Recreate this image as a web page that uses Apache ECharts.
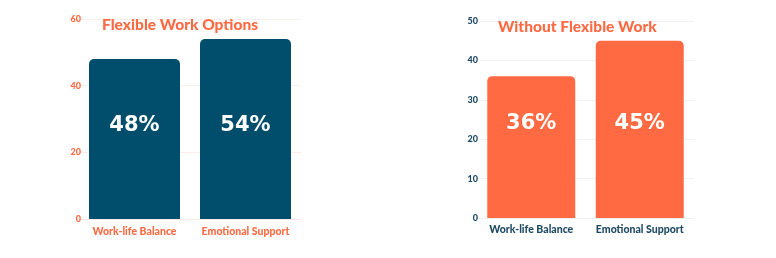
<!DOCTYPE html>
<html><head><meta charset="utf-8">
<style>html,body{margin:0;padding:0;background:#fff;}#c{width:776px;height:258px;}</style>
<script src="https://cdn.jsdelivr.net/npm/echarts@6/dist/echarts.min.js"></script>
</head><body><div id="c"></div>
<script>
const categories = ['Work-life Balance', 'Emotional Support'];
const flexibleValues = [48, 54];
const withoutValues = [36, 45];
const leftTitle = 'Flexible Work Options';
const rightTitle = 'Without Flexible Work';

const ORANGE = '#FF6A43';
const BLUE = '#004E6B';
const AXBLUE = '#1E4A64';

const chart = echarts.init(document.getElementById('c'), null, {renderer: 'canvas'});
chart.setOption({
  animation: false,
  backgroundColor: '#ffffff',
  title: [
    {text: leftTitle, left: 102, top: 17, padding: 0, textStyle: {color: ORANGE, fontFamily: 'Lato', fontWeight: 900, fontSize: 15.5}},
    {text: rightTitle, left: 498, top: 19, padding: 0, textStyle: {color: ORANGE, fontFamily: 'Lato', fontWeight: 900, fontSize: 15.5}}
  ],
  grid: [
    {left: 79, right: 776 - 301, top: 19, bottom: 258 - 219},
    {left: 477, right: 776 - 694, top: 21, bottom: 258 - 218}
  ],
  xAxis: [
    {type: 'category', gridIndex: 0, data: categories,
     axisLine: {lineStyle: {color: '#fde9e6'}}, axisTick: {show: false},
     axisLabel: {interval: 0, color: ORANGE, fontFamily: 'Lato', fontWeight: 900, fontSize: 10.5, margin: 7}},
    {type: 'category', gridIndex: 1, data: categories,
     axisLine: {lineStyle: {color: '#eef0f2'}}, axisTick: {show: false},
     axisLabel: {interval: 0, color: AXBLUE, fontFamily: 'Lato', fontWeight: 900, fontSize: 10.5, margin: 6}}
  ],
  yAxis: [
    {type: 'value', gridIndex: 0, min: 0, max: 60, interval: 20,
     axisLine: {show: false}, axisTick: {show: false},
     splitLine: {lineStyle: {color: '#fdeeec'}},
     axisLabel: {color: ORANGE, fontFamily: 'Lato', fontWeight: 900, fontSize: 9, margin: -2}},
    {type: 'value', gridIndex: 1, min: 0, max: 50, interval: 10,
     axisLine: {show: false}, axisTick: {show: false},
     splitLine: {lineStyle: {color: '#f1f2f4'}},
     axisLabel: {color: AXBLUE, fontFamily: 'Lato', fontWeight: 900, fontSize: 9, margin: -1}}
  ],
  series: [
    {type: 'bar', xAxisIndex: 0, yAxisIndex: 0, data: flexibleValues, barWidth: 91,
     itemStyle: {color: BLUE, borderRadius: [5, 5, 0, 0]},
     label: {show: true, position: 'insideBottom', distance: 83, formatter: '{c}%', color: '#fff',
             fontFamily: 'DejaVu Sans', fontWeight: 'bold', fontSize: 21}},
    {type: 'bar', xAxisIndex: 1, yAxisIndex: 1, data: withoutValues, barWidth: 88,
     itemStyle: {color: ORANGE, borderRadius: [5, 5, 0, 0]},
     label: {show: true, position: 'insideBottom', distance: 84, formatter: '{c}%', color: '#fff',
             fontFamily: 'DejaVu Sans', fontWeight: 'bold', fontSize: 21}}
  ]
});
</script></body></html>
